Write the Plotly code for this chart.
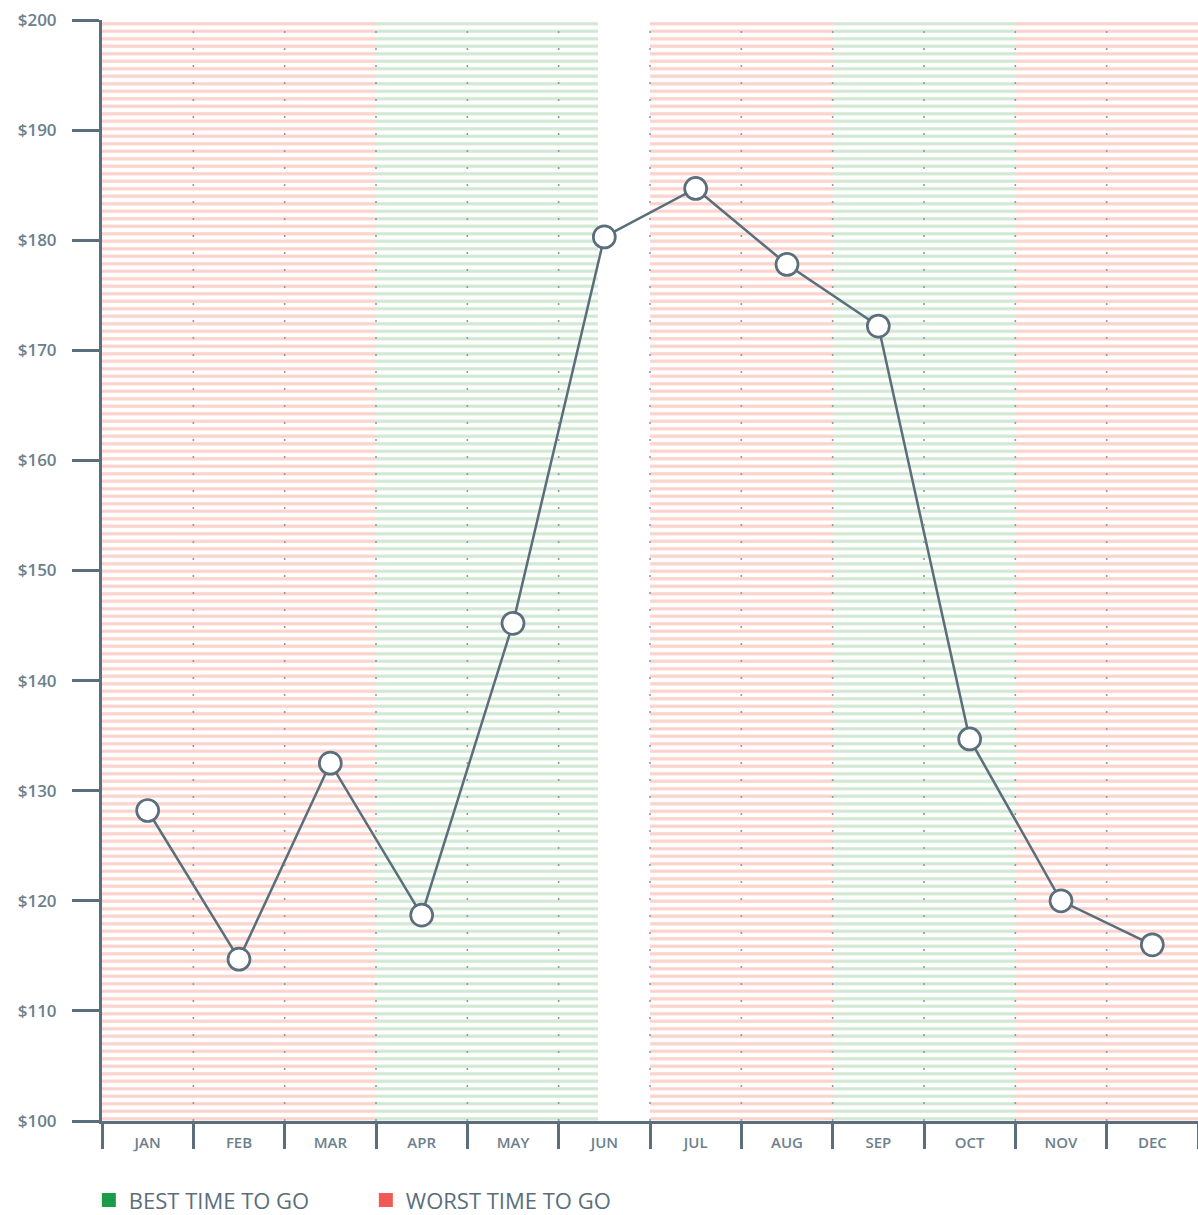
import plotly.graph_objects as go

# ---- data ----
months = ["JAN", "FEB", "MAR", "APR", "MAY", "JUN", "JUL", "AUG", "SEP", "OCT", "NOV", "DEC"]
prices = [128.2, 114.7, 132.5, 118.7, 145.2, 180.3, 184.7, 177.8, 172.2, 134.7, 120.0, 116.0]
best_months = ["APR", "MAY", "JUN", "SEP", "OCT"]
worst_months = ["JAN", "FEB", "MAR", "JUL", "AUG", "NOV", "DEC"]
y_min, y_max = 100, 200
legend_labels = ["BEST TIME TO GO", "WORST TIME TO GO"]

# ---- styles ----
SLATE = "#5a6e7b"
TICK_TXT = "#6c808b"
RED_STRIPE = "#fbd2cb"
GREEN_STRIPE = "#d0e7d2"
GREEN = "#1a9d48"
RED = "#ef5b52"
JUN_FRACTION = 0.43  # June band only partially shaded
FONT = "'Open Sans', Lato, sans-serif"

fig = go.Figure()

def band_trace(ms, color):
    widths = [JUN_FRACTION if m == "JUN" else 1.0 for m in ms]
    offsets = [-0.5 for _ in ms]
    return go.Bar(
        x=ms, y=[y_max - y_min] * len(ms), base=[y_min] * len(ms),
        width=widths, offset=offsets,
        marker=dict(color=color, line=dict(width=0),
                    pattern=dict(shape="-", fgcolor=color, bgcolor="rgba(0,0,0,0)",
                                 size=7.5, solidity=0.42, fillmode="replace")),
        hoverinfo="skip", showlegend=False,
    )

fig.add_trace(band_trace(worst_months, RED_STRIPE))
fig.add_trace(band_trace(best_months, GREEN_STRIPE))

fig.add_trace(go.Scatter(
    x=months, y=prices, mode="lines+markers",
    line=dict(color=SLATE, width=2.5),
    marker=dict(size=22, color="white", line=dict(color=SLATE, width=2.7)),
    showlegend=False,
))

# legend entries
for lab, col in zip(legend_labels, [GREEN, RED]):
    fig.add_trace(go.Scatter(
        x=[None], y=[None], mode="markers", name=lab,
        marker=dict(symbol="square", size=14, color=col),
    ))

# dotted vertical separators at month boundaries (above stripes)
for i in range(1, len(months)):
    fig.add_shape(type="line", xref="x", yref="y", x0=i - 0.5, x1=i - 0.5,
                  y0=y_min, y1=y_max, layer="above",
                  line=dict(color="#8d9ca5", width=1.6, dash="2px,15px"))

fig.update_layout(
    width=1198, height=1215,
    margin=dict(l=102, r=0, t=20, b=94, autoexpand=False),
    plot_bgcolor="white", paper_bgcolor="white",
    barmode="overlay", bargap=0,
    font=dict(family=FONT, color=TICK_TXT),
    legend=dict(orientation="h", x=-0.012, xanchor="left", y=-0.072, yanchor="middle",
                font=dict(size=22, color=SLATE), entrywidth=232, entrywidthmode="pixels",
                itemclick=False, bgcolor="rgba(0,0,0,0)"),
    xaxis=dict(
        type="category", categoryorder="array", categoryarray=months,
        range=[-0.5, 11.5], tickson="boundaries", ticks="outside", ticklen=25,
        tickwidth=3, tickcolor=SLATE, showline=True, linecolor=SLATE, linewidth=3,
        showgrid=False, tickfont=dict(size=15, color=TICK_TXT, weight=600),
        ticklabelstandoff=6, fixedrange=True, zeroline=False,
    ),
    yaxis=dict(
        range=[y_min, y_max], dtick=10, tick0=0, tickprefix="$", ticks="outside",
        ticklen=27, tickwidth=3, tickcolor=SLATE, showline=True, linecolor=SLATE,
        linewidth=3, showgrid=False, zeroline=False, ticklabelstandoff=12,
        tickfont=dict(size=17, color=TICK_TXT, weight=600), fixedrange=True,
    ),
)

fig.write_html("out.html", config={"displayModeBar": False},
               post_script="document.body.style.margin='0px';")
